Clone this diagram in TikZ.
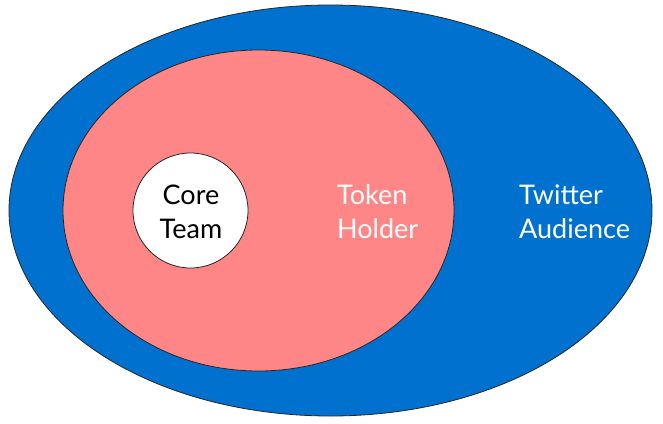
\documentclass[tikz,border=0pt]{standalone}
\usepackage{fontspec}
\setmainfont{Lato}
\definecolor{audblue}{RGB}{0,113,206}
\definecolor{tokpink}{RGB}{255,134,134}
\tikzset{
  ring/.style={draw=black!85, line width=0.8pt},
  label/.style={inner sep=0pt, font=\fontsize{27}{34}\selectfont}
}
\begin{document}
\begin{tikzpicture}[x=1pt, y=-1pt]
    \useasboundingbox (0,0) rectangle (663,423);

    \filldraw [ring, fill=audblue] (330.5,210.5) ellipse [x radius=321.5, y radius=205.5];
    \filldraw [ring, fill=tokpink] (258.5,210.5) ellipse [x radius=195.5, y radius=160.5];
    \filldraw [ring, fill=white] (190.5,210.5) circle [radius=57.5];

    \node [label, align=center] (VnCore) at (191,212) {Core\\Team};
    \node [label, align=left, white, anchor=west] (VnTok) at (337,212) {Token\\Holder};
    \node [label, align=left, white, anchor=west] (VnAud) at (519,212) {Twitter\\Audience};
  \end{tikzpicture}
\end{document}
